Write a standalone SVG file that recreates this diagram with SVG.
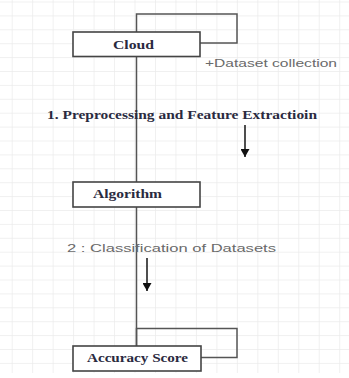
<svg xmlns="http://www.w3.org/2000/svg" width="349" height="378" viewBox="0 0 349 378">
<defs>
<pattern id="grid" x="11.7" y="1.5" width="20.47" height="13.9" patternUnits="userSpaceOnUse">
<line x1="0" y1="0" x2="0" y2="13.9" stroke="#ebebeb" stroke-width="1.5"/>
<line x1="0" y1="0" x2="20.47" y2="0" stroke="#ebebeb" stroke-width="1.5"/>
</pattern>
<marker id="head" markerWidth="8" markerHeight="9" refX="8" refY="4.5" orient="auto" markerUnits="userSpaceOnUse" viewBox="0 0 8 9">
<path d="M0,0 L8,4.5 L0,9 Z" fill="#111"/>
</marker>
</defs>
<style>
.box{fill:#fff;stroke:#444;stroke-width:1.6}
.life{fill:none;stroke:#555;stroke-width:1.5}
.lbl{font-family:"Liberation Serif",serif;font-weight:bold;font-size:12.5px;fill:#2a2a40}
.msg{font-family:"Liberation Sans",sans-serif;font-size:11.5px;fill:#6a6a6a}
.arr{stroke:#222;stroke-width:1.6}
</style>
<rect x="0" y="0" width="349" height="373" fill="#fff"/>
<rect x="0" y="0" width="349" height="373" fill="url(#grid)"/>
<g id="connectors">
<path class="life" d="M136.5,56 V182"/>
<path class="life" d="M136.5,207 V346"/>
<path class="life" d="M136.5,32 V14 H237 V43 H200"/>
<path class="life" d="M136.5,346 V328.5 H237 V357.5 H201"/>
<line class="arr" x1="245" y1="125" x2="245" y2="157" marker-end="url(#head)"/>
<line class="arr" x1="147" y1="258" x2="147" y2="291" marker-end="url(#head)"/>
<text class="msg" x="205" y="67" textLength="132" lengthAdjust="spacingAndGlyphs">+Dataset collection</text>
<text class="lbl" x="47" y="119" textLength="270" lengthAdjust="spacingAndGlyphs">1. Preprocessing and Feature Extractioin</text>
<text class="msg" x="67" y="252" textLength="209" lengthAdjust="spacingAndGlyphs">2 : Classification of Datasets</text>
</g>
<g id="cloud">
<rect class="box" x="73" y="32" width="127" height="24.5"/>
<text class="lbl" x="113" y="48.5" textLength="41" lengthAdjust="spacingAndGlyphs">Cloud</text>
</g>
<g id="algorithm">
<rect class="box" x="73" y="182" width="127" height="25"/>
<text class="lbl" x="93" y="197.5" textLength="69" lengthAdjust="spacingAndGlyphs">Algorithm</text>
</g>
<g id="accuracy">
<rect class="box" x="73" y="346" width="128" height="25"/>
<text class="lbl" x="87" y="362" textLength="101" lengthAdjust="spacingAndGlyphs">Accuracy Score</text>
</g>
</svg>
